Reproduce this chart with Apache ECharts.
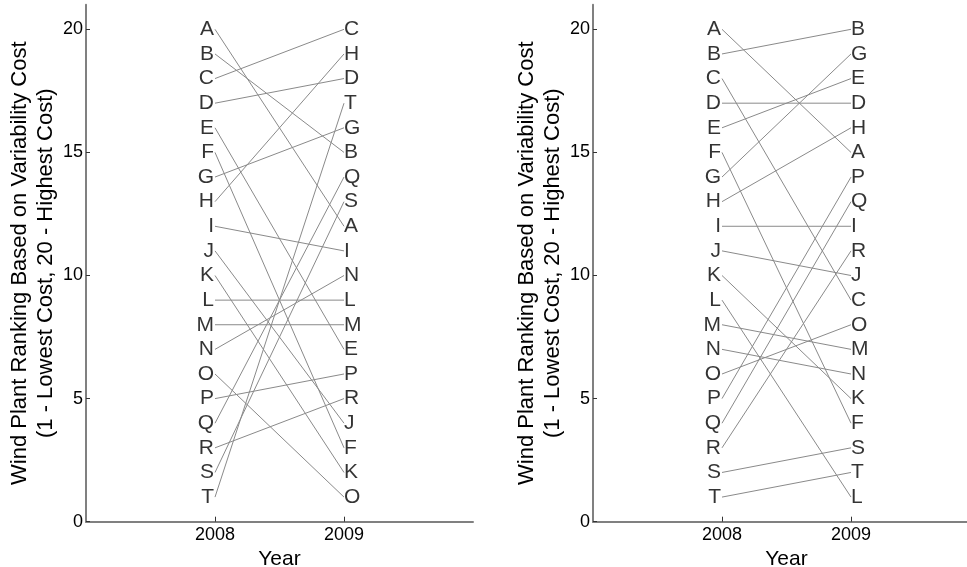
<!DOCTYPE html>
<html><head><meta charset="utf-8">
<script src="https://cdn.jsdelivr.net/npm/echarts@6/dist/echarts.min.js"></script>
<style>html,body{margin:0;padding:0;background:#fff}#c{width:967px;height:567px}</style>
</head><body><div id="c"></div>
<script>
const plants = ['A','B','C','D','E','F','G','H','I','J','K','L','M','N','O','P','Q','R','S','T'];
const years = [2008, 2009];
const rank2008 = [20,19,18,17,16,15,14,13,12,11,10,9,8,7,6,5,4,3,2,1];
const rank2009Left = [12,15,20,18,7,3,16,19,11,4,2,9,8,10,1,6,14,5,13,17];
const rank2009Right = [15,20,9,17,18,4,19,16,12,10,5,1,7,6,8,14,13,11,3,2];
const yTicks = [0,5,10,15,20];
const yTitle = ['Wind Plant Ranking Based on Variability Cost', '(1 - Lowest Cost, 20 - Highest Cost)'];
const xTitle = 'Year';

const FONT = '"Liberation Sans", Arial, sans-serif';
const chart = echarts.init(document.getElementById('c'), null, {renderer:'canvas'});

function panelSeries(idx, r09) {
  const s = [];
  plants.forEach((p, i) => {
    s.push({
      type: 'line', xAxisIndex: idx, yAxisIndex: idx,
      data: [[years[0], rank2008[i]], [years[1], r09[i]]],
      symbol: 'none', silent: true,
      lineStyle: {color: '#8a8a8a', width: 1}
    });
  });
  s.push({
    type: 'scatter', xAxisIndex: idx, yAxisIndex: idx, symbolSize: 0, silent: true,
    data: plants.map((p, i) => ({value: [years[0], rank2008[i]], name: p})),
    label: {show: true, position: 'left', distance: 1, formatter: d => d.name,
            color: '#000', fontSize: 21, fontFamily: FONT}
  });
  s.push({
    type: 'scatter', xAxisIndex: idx, yAxisIndex: idx, symbolSize: 0, silent: true,
    data: plants.map((p, i) => ({value: [years[1], r09[i]], name: p})),
    label: {show: true, position: 'right', distance: 0, formatter: d => d.name,
            color: '#000', fontSize: 21, fontFamily: FONT}
  });
  return s;
}

function xAx(idx) {
  return {
    gridIndex: idx, type: 'value', min: 2007, max: 2010, interval: 1,
    axisLine: {show: true, lineStyle: {color: '#808080', width: 2}},
    axisTick: {show: true, inside: true, length: 5, customValues: years, lineStyle: {color: '#333', width: 1}},
    axisLabel: {customValues: years, formatter: v => String(v), fontSize: 18, color: '#000', margin: 4, fontFamily: FONT},
    splitLine: {show: false},
    name: xTitle, nameLocation: 'middle', nameGap: 18,
    nameTextStyle: {fontSize: 21, color: '#000', fontFamily: FONT}
  };
}
function yAx(idx) {
  return {
    gridIndex: idx, type: 'value', min: 0, max: 21, interval: 5,
    axisLine: {show: true, lineStyle: {color: '#808080', width: 2}},
    axisTick: {show: true, inside: true, length: 4, customValues: yTicks, lineStyle: {color: '#333', width: 1}},
    axisLabel: {customValues: yTicks, fontSize: 18, color: '#000', margin: 3, fontFamily: FONT},
    splitLine: {show: false},
    name: yTitle.join('\n'), nameLocation: 'middle', nameGap: 18,
    nameTextStyle: {fontSize: 22, lineHeight: 26, color: '#000', fontFamily: FONT}
  };
}

chart.setOption({
  animation: false,
  backgroundColor: '#fff',
  grid: [
    {left: 86, right: 494, top: 4.7, bottom: 45.3, outerBoundsMode: 'none', containLabel: false},
    {left: 593, right: -13, top: 4.7, bottom: 45.3, outerBoundsMode: 'none', containLabel: false}
  ],
  xAxis: [xAx(0), xAx(1)],
  yAxis: [yAx(0), yAx(1)],
  series: panelSeries(0, rank2009Left).concat(panelSeries(1, rank2009Right))
});
</script>
</body></html>
